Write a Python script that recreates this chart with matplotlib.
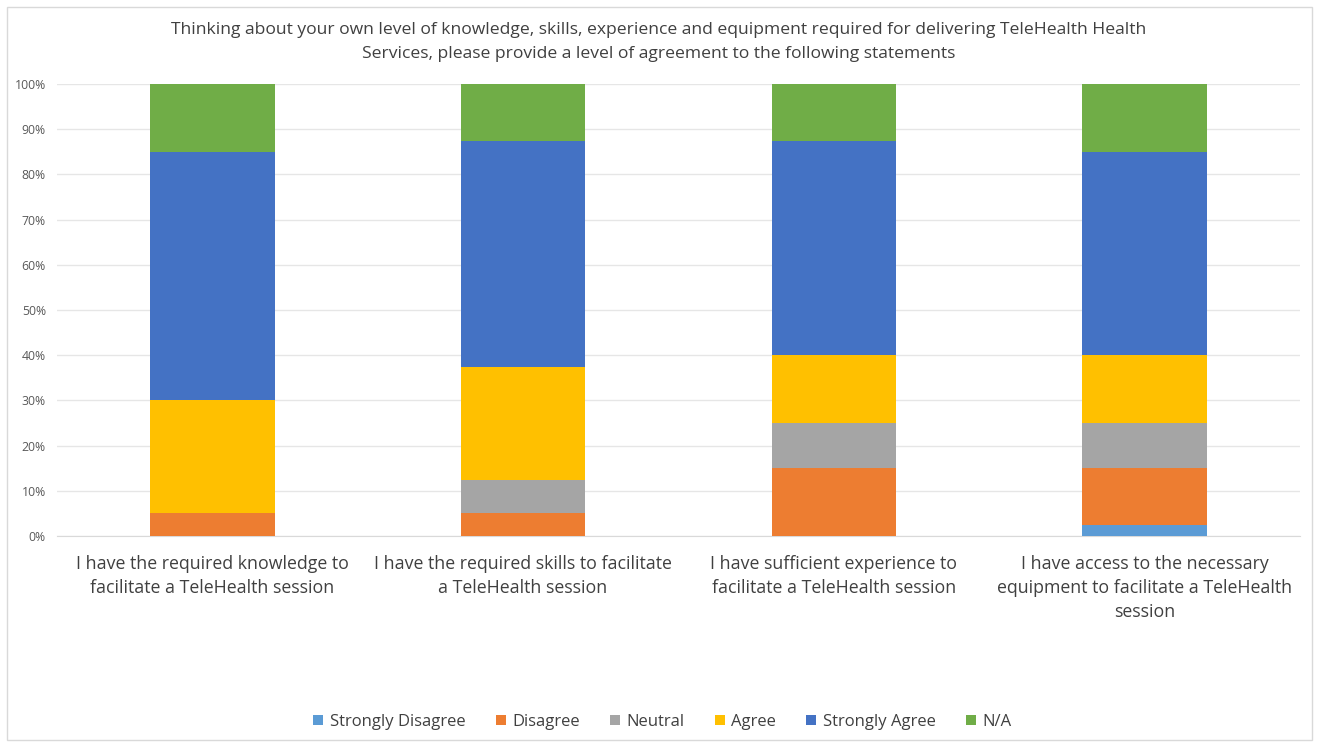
import matplotlib.pyplot as plt
import numpy as np
from matplotlib.patches import Rectangle

# Data (percent of respondents)
categories = [
    "I have the required knowledge to\nfacilitate a TeleHealth session",
    "I have the required skills to facilitate\na TeleHealth session",
    "I have sufficient experience to\nfacilitate a TeleHealth session",
    "I have access to the necessary\nequipment to facilitate a TeleHealth\nsession",
]
series_names = ["Strongly Disagree", "Disagree", "Neutral", "Agree", "Strongly Agree", "N/A"]
strongly_disagree = [0, 0, 0, 2.5]
disagree = [5, 5, 15, 12.5]
neutral = [0, 7.5, 10, 10]
agree = [25, 25, 15, 15]
strongly_agree = [55, 50, 47.5, 45]
na = [15, 12.5, 12.5, 15]
colors = ["#5B9BD5", "#ED7D31", "#A5A5A5", "#FFC000", "#4472C4", "#70AD47"]

plt.rcParams['font.family'] = ['Open Sans', 'DejaVu Sans']

fig = plt.figure(figsize=(13.17, 7.42), dpi=100)
ax = fig.add_axes([57 / 1317, 1 - 536 / 742, 1243 / 1317, 452 / 742])

# outer chart frame
fig.patches.append(Rectangle((7 / 1317, 2 / 742), 1305 / 1317, 733 / 742,
                             transform=fig.transFigure, fill=False,
                             edgecolor='#D9D9D9', linewidth=1))

x = np.arange(len(categories))
bottom = np.zeros(len(categories))
for name, vals, c in zip(series_names,
                         [strongly_disagree, disagree, neutral, agree, strongly_agree, na],
                         colors):
    ax.bar(x, vals, 0.4, bottom=bottom, color=c, label=name, zorder=3)
    bottom += np.array(vals)

ax.set_xlim(-0.5, len(categories) - 0.5)
ax.set_ylim(0, 100)
ax.set_yticks(np.arange(0, 101, 10))
ax.set_yticklabels([f"{v}%" for v in range(0, 101, 10)], fontsize=8.8, color='#595959')
ax.yaxis.grid(True, color='#E6E6E6', linewidth=1, zorder=0)
ax.set_xticks(x)
ax.set_xticklabels(categories, fontsize=12.8, color='#404040', linespacing=1.4)
ax.tick_params(axis='both', length=0)
ax.tick_params(axis='x', pad=14)
ax.tick_params(axis='y', pad=8)
for s in ['top', 'right', 'left']:
    ax.spines[s].set_visible(False)
ax.spines['bottom'].set_color('#D9D9D9')

fig.text(0.5, 1 - 42 / 742,
         "Thinking about your own level of knowledge, skills, experience and equipment required for delivering TeleHealth Health\n"
         "Services, please provide a level of agreement to the following statements",
         ha='center', va='center', fontsize=12.6, color='#404040', linespacing=1.62)

fig.legend(loc='center', bbox_to_anchor=(0.503, 1 - 722 / 742), ncol=6, frameon=False,
           fontsize=12, handlelength=0.6, handleheight=0.6, handletextpad=0.4,
           columnspacing=1.8, labelcolor='#404040')

fig.savefig('out.png', dpi=100)
